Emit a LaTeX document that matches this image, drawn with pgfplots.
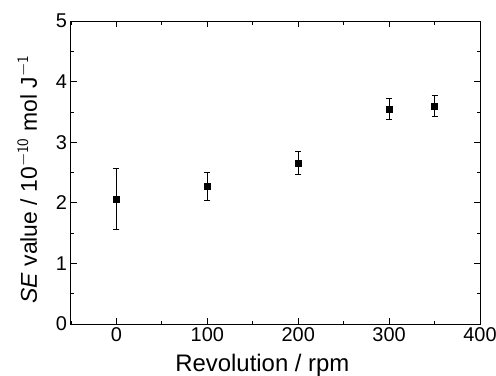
\documentclass[border=0pt]{standalone}
\usepackage{pgfplots}
\pgfplotsset{compat=1.18}
\usepackage{fontspec}
\setmainfont{Liberation Sans}
\begin{document}
\begin{tikzpicture}
\begin{axis}[
  scale only axis,
  width=409bp, height=303bp,
  at={(0,0)}, anchor=south west,
  xmin=-50, xmax=400, ymin=0, ymax=5,
  xtick={0,100,200,300,400},
  ytick={0,1,2,3,4,5},
  minor xtick={-50,50,150,250,350},
  minor ytick={0.5,1.5,2.5,3.5,4.5},
  tick align=inside,
  major tick length=6bp, minor tick length=3.5bp,
  every tick/.style={black, line width=0.8bp},
  axis line style={line width=1bp},
  /pgf/number format/assume math mode=true,
  ticklabel style={font=\fontsize{20}{22}\selectfont},
  xticklabel style={yshift=-0.5bp},
  yticklabel style={xshift=-0.5bp},
  xlabel={Revolution / rpm},
  xlabel style={font=\fontsize{24}{26}\selectfont, at={(axis description cs:0.468,0)}, anchor=base, yshift=-47bp},
  ylabel={\textit{SE} value / 10$^{\mathsf{-10}}$ mol J$^{\mathsf{-1}}$},
  ylabel style={font=\fontsize{23}{26}\selectfont, at={(axis description cs:0,0.477)}, anchor=base, yshift=34bp},
]
\addplot[only marks, mark=square*, mark size=3bp, black,
  error bars/.cd, y dir=both, y explicit,
  error mark options={rotate=90, mark size=3bp, line width=0.8bp},
  error bar style={line width=0.8bp}]
  table[x=x, y=y, y error=e] {
x y e
0 2.06 0.50
100 2.27 0.23
200 2.66 0.19
300 3.55 0.17
350 3.60 0.18
};
\end{axis}
\pgfresetboundingbox
\useasboundingbox (-71bp,-52bp) rectangle (425bp,324bp);
\end{tikzpicture}
\end{document}
